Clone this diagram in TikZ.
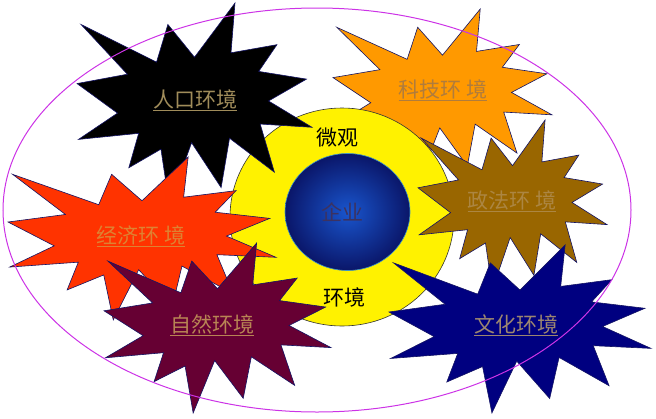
\documentclass[tikz,border=0pt]{standalone}
\usepackage{fontspec}
\setmainfont{Noto Sans CJK SC}
\definecolor{ringcol}{RGB}{204,51,230}
\definecolor{edgecol}{RGB}{20,20,100}
\definecolor{orangefill}{RGB}{255,153,0}
\definecolor{brownfill}{RGB}{153,102,0}
\definecolor{redfill}{RGB}{255,51,0}
\definecolor{purplefill}{RGB}{102,0,51}
\definecolor{navyfill}{RGB}{0,0,128}
\definecolor{ballin}{RGB}{25,85,205}
\definecolor{ballout}{RGB}{10,22,105}
\definecolor{ballrim}{RGB}{60,150,200}
\definecolor{popcol}{RGB}{160,140,90}
\definecolor{techcol}{RGB}{176,124,60}
\definecolor{lawcol}{RGB}{172,134,66}
\definecolor{ecocol}{RGB}{222,130,50}
\definecolor{natcol}{RGB}{184,132,84}
\definecolor{cultcol}{RGB}{156,134,112}
\definecolor{firmcol}{RGB}{60,50,96}

\tikzset{
  burst/.pic={
    \path[pic actions] (0.5,0.2685) -- (0.6723,0) -- (0.6553,0.2465)
      -- (0.8509,0.2063) -- (0.7732,0.3387) -- (0.9767,0.3767)
      -- (0.8151,0.4850) -- (1,0.6153) -- (0.7795,0.5992)
      -- (0.8400,0.8377) -- (0.6491,0.6693) -- (0.6133,0.9138)
      -- (0.4876,0.6914) -- (0.3928,1) -- (0.3572,0.7235)
      -- (0.2205,0.8156) -- (0.2624,0.6452) -- (0.00625,0.6753)
      -- (0.1723,0.5451) -- (0,0.3988) -- (0.2142,0.3526)
      -- (0.0171,0.1063) -- (0.3385,0.2926) -- (0.3867,0.1063) -- cycle;
  },
  burstline/.style={draw=edgecol, line width=0.6pt, line join=miter},
  envtext/.style={font=\fontsize{21}{21}\selectfont, inner sep=0pt},
}

\begin{document}
\begin{tikzpicture}[x=1pt,y=-1pt]
\useasboundingbox (0,0) rectangle (656,418);

% behind the yellow disc
\pic[burstline, fill=orangefill, xscale=219, yscale=172] at (333,9) {burst};

% micro environment and the firm
\draw[fill=yellow, draw=black!80, line width=0.6pt] (342,217) ellipse [x radius=112, y radius=109];
\shade[inner color=ballin, outer color=ballout]
  (347.5,212) ellipse [x radius=62.5, y radius=58.5];
\draw[ballrim, line width=0.6pt] (347.5,212) ellipse [x radius=62.5, y radius=58.5];
\node[envtext] (micro) at (337,138) {微观};
\node[envtext] (env) at (344,297) {环境};
\node[envtext, text=firmcol] (firm) at (342,212) {企业};

% macro environments
\pic[burstline, fill=black, xscale=235, yscale=202] at (77,3) {burst};
\pic[burstline, fill=redfill, xscale=268, yscale=163] at (8,157) {burst};
\pic[burstline, fill=purplefill, xscale=227, yscale=170] at (104,243) {burst};
\pic[burstline, fill=brownfill, xscale=189, yscale=170] at (418,120) {burst};
\pic[burstline, fill=navyfill, xscale=262, yscale=168] at (389,245) {burst};

\node[envtext, text=popcol] (pop) at (195,100) {\underline{人口环境}};
\node[envtext, text=techcol] (tech) at (443,90) {\underline{科技环 境}};
\node[envtext, text=lawcol] (law) at (512,201) {\underline{政法环 境}};
\node[envtext, text=ecocol] (eco) at (141,236) {\underline{经济环 境}};
\node[envtext, text=natcol] (nat) at (212,325) {\underline{自然环境}};
\node[envtext, text=cultcol] (cult) at (516,325) {\underline{文化环境}};

% outer ring
\draw[ringcol, line width=1pt] (317,210) ellipse [x radius=314, y radius=202];
\end{tikzpicture}
\end{document}
